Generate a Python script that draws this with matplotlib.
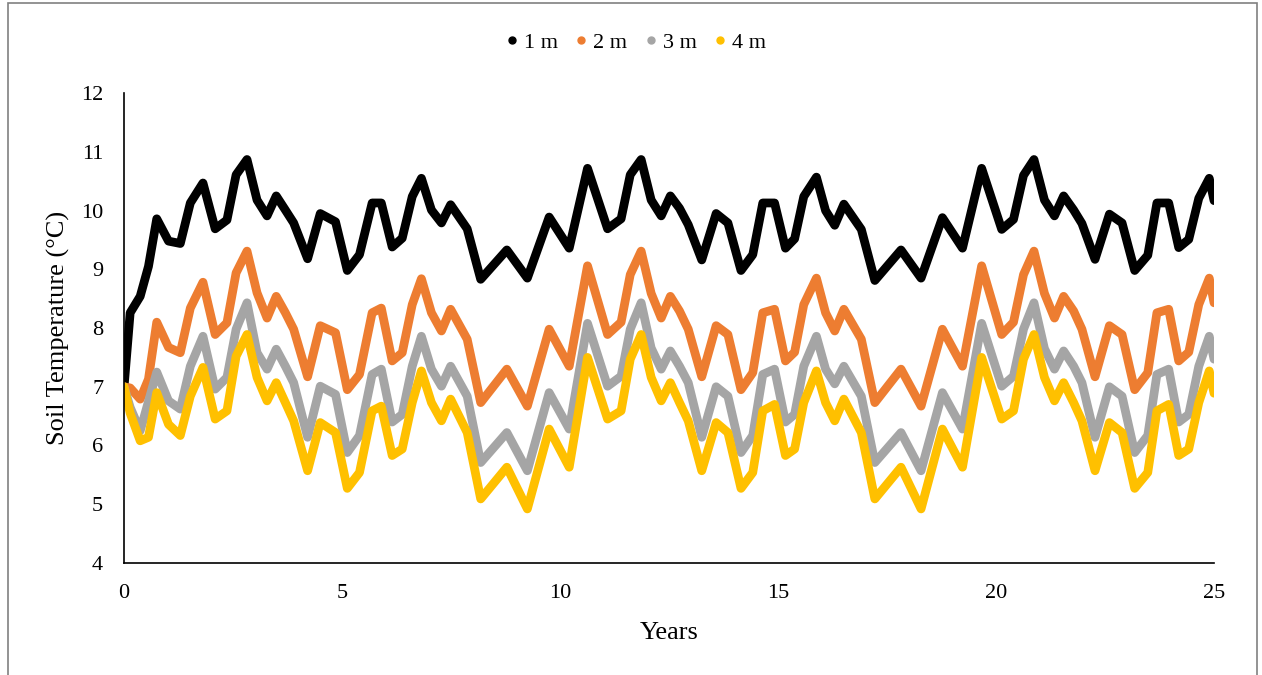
import numpy as np
import matplotlib
matplotlib.use("Agg")
import matplotlib.pyplot as plt
from matplotlib.lines import Line2D
from matplotlib.patches import Rectangle

# data
years = [0.00, 0.14, 0.37, 0.56, 0.75, 1.02, 1.29, 1.52, 1.81, 2.09,
         2.36, 2.57, 2.82, 3.05, 3.28, 3.49, 3.70, 3.89, 4.21, 4.50,
         4.85, 5.12, 5.40, 5.69, 5.90, 6.15, 6.38, 6.61, 6.82, 7.05,
         7.28, 7.49, 7.87, 8.18, 8.78, 9.25, 9.75, 10.21, 10.63, 11.09,
         11.40, 11.61, 11.86, 12.09, 12.32, 12.53, 12.74, 12.94, 13.25, 13.58,
         13.85, 14.15, 14.42, 14.65, 14.92, 15.17, 15.38, 15.59, 15.88, 16.09,
         16.30, 16.51, 16.91, 17.22, 17.82, 18.28, 18.77, 19.23, 19.67, 20.13,
         20.40, 20.63, 20.87, 21.11, 21.34, 21.55, 21.78, 21.97, 22.27, 22.60,
         22.89, 23.18, 23.48, 23.69, 23.96, 24.19, 24.42, 24.65, 24.89, 25.00]

temp_1m = [7.00, 8.26, 8.54, 9.05, 9.86, 9.48, 9.44, 10.13, 10.47, 9.69,
           9.84, 10.61, 10.87, 10.18, 9.91, 10.25, 10.01, 9.79, 9.18, 9.95,
           9.81, 8.98, 9.25, 10.13, 10.13, 9.38, 9.53, 10.24, 10.55, 10.01,
           9.79, 10.10, 9.69, 8.83, 9.33, 8.85, 9.89, 9.36, 10.72, 9.69,
           9.86, 10.61, 10.87, 10.18, 9.91, 10.25, 10.04, 9.76, 9.16, 9.95,
           9.79, 8.98, 9.25, 10.13, 10.13, 9.36, 9.52, 10.24, 10.57, 10.00,
           9.75, 10.11, 9.68, 8.81, 9.33, 8.85, 9.88, 9.36, 10.72, 9.68,
           9.85, 10.60, 10.87, 10.18, 9.91, 10.25, 10.01, 9.78, 9.17, 9.94,
           9.79, 8.98, 9.24, 10.13, 10.13, 9.37, 9.51, 10.21, 10.55, 10.17]

temp_2m = [7.00, 6.98, 6.79, 7.13, 8.10, 7.67, 7.58, 8.34, 8.78, 7.89,
           8.09, 8.94, 9.31, 8.60, 8.17, 8.54, 8.26, 7.98, 7.17, 8.04,
           7.92, 6.95, 7.21, 8.26, 8.34, 7.44, 7.58, 8.40, 8.84, 8.26,
           7.95, 8.32, 7.81, 6.73, 7.30, 6.67, 7.98, 7.35, 9.06, 7.89,
           8.10, 8.91, 9.31, 8.59, 8.17, 8.54, 8.29, 7.98, 7.17, 8.04,
           7.89, 6.95, 7.24, 8.26, 8.32, 7.44, 7.59, 8.40, 8.85, 8.26,
           7.95, 8.32, 7.81, 6.73, 7.30, 6.67, 7.98, 7.35, 9.06, 7.89,
           8.10, 8.91, 9.31, 8.59, 8.17, 8.54, 8.29, 7.98, 7.17, 8.04,
           7.89, 6.95, 7.24, 8.26, 8.32, 7.44, 7.59, 8.40, 8.85, 8.43]

temp_3m = [7.00, 6.65, 6.25, 6.75, 7.25, 6.76, 6.62, 7.35, 7.86, 6.96,
           7.16, 7.98, 8.43, 7.58, 7.30, 7.64, 7.35, 7.07, 6.14, 7.01,
           6.87, 5.88, 6.17, 7.21, 7.30, 6.40, 6.53, 7.35, 7.86, 7.30,
           7.01, 7.35, 6.84, 5.71, 6.22, 5.57, 6.90, 6.28, 8.08, 7.01,
           7.18, 7.98, 8.43, 7.66, 7.30, 7.61, 7.35, 7.07, 6.14, 7.00,
           6.84, 5.88, 6.17, 7.21, 7.30, 6.40, 6.53, 7.35, 7.86, 7.30,
           7.05, 7.35, 6.84, 5.71, 6.22, 5.57, 6.90, 6.28, 8.08, 7.01,
           7.18, 7.98, 8.43, 7.65, 7.30, 7.61, 7.35, 7.07, 6.14, 7.00,
           6.84, 5.88, 6.17, 7.21, 7.30, 6.40, 6.53, 7.35, 7.86, 7.47]

temp_4m = [7.00, 6.55, 6.08, 6.14, 6.90, 6.36, 6.17, 6.84, 7.33, 6.45,
           6.59, 7.52, 7.89, 7.16, 6.76, 7.07, 6.73, 6.42, 5.57, 6.39,
           6.22, 5.27, 5.54, 6.59, 6.67, 5.83, 5.94, 6.73, 7.27, 6.73,
           6.42, 6.79, 6.22, 5.09, 5.63, 4.92, 6.28, 5.63, 7.50, 6.45,
           6.59, 7.47, 7.89, 7.16, 6.76, 7.07, 6.73, 6.42, 5.57, 6.39,
           6.22, 5.27, 5.54, 6.59, 6.70, 5.83, 5.94, 6.73, 7.27, 6.73,
           6.42, 6.79, 6.22, 5.09, 5.63, 4.92, 6.28, 5.63, 7.50, 6.45,
           6.59, 7.47, 7.89, 7.16, 6.76, 7.07, 6.73, 6.42, 5.57, 6.39,
           6.22, 5.27, 5.54, 6.59, 6.70, 5.83, 5.94, 6.73, 7.27, 6.89]

labels = ["1 m", "2 m", "3 m", "4 m"]
colors = ["#000000", "#ED7D31", "#A5A5A5", "#FFC000"]
series = [temp_1m, temp_2m, temp_3m, temp_4m]

plt.rcParams['font.family'] = ['Liberation Serif', 'DejaVu Serif']

fig = plt.figure(figsize=(12.62, 6.75), dpi=100)
ax = fig.add_axes([0.0983, 0.166, 0.8637, 0.696])

for vals, col, lab in zip(series, colors, labels):
    ax.plot(years, vals, color=col, lw=6.3, label=lab,
            solid_joinstyle='round', solid_capstyle='round')

ax.set_xlim(0, 25)
ax.set_ylim(4, 12)
ax.set_xticks(np.arange(0, 26, 5))
ax.set_yticks(np.arange(4, 13, 1))
ax.tick_params(length=0, labelsize=16)
ax.tick_params(axis='x', pad=15)
ax.tick_params(axis='y', pad=15)
for s in ['top', 'right']:
    ax.spines[s].set_visible(False)
for s in ['left', 'bottom']:
    ax.spines[s].set_linewidth(1.2)
    ax.spines[s].set_color('black')

ax.set_xlabel("Years", fontsize=19, labelpad=14)
ax.set_ylabel("Soil Temperature (\u00b0C)", fontsize=19, labelpad=8)

handles = [Line2D([], [], marker='o', ls='none', color=c, markersize=5) for c in colors]
fig.legend(handles, labels, loc='center', bbox_to_anchor=(0.502, 0.937), ncol=4,
           frameon=False, fontsize=16, handletextpad=0.05, columnspacing=0.55,
           handlelength=1.0)

# outer chart border
fig.patches.append(Rectangle((8 / 1262, -0.05), 1249 / 1262, 1.05 - 3 / 675,
                             transform=fig.transFigure, fill=False,
                             edgecolor='#808080', lw=1.2))

fig.savefig("out.png", dpi=100)
